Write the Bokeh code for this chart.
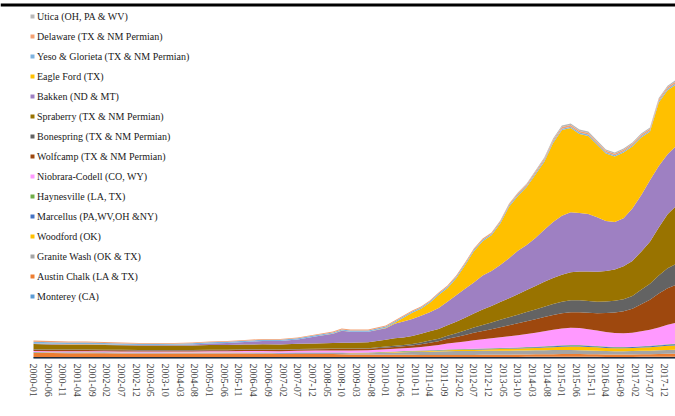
import pandas as pd
from bokeh.plotting import figure
from bokeh.models import ColumnDataSource, Legend, LegendItem, FixedTicker, Span, Range1d
from bokeh.core.properties import value
from bokeh.embed import file_html
from bokeh.resources import INLINE

# ---------------- data (thousand barrels per day) ----------------
months = ["2000-01", "2000-07", "2001-01", "2001-07", "2002-01", "2002-07", "2003-01", "2003-07",
          "2004-01", "2004-07", "2005-01", "2005-07", "2006-01", "2006-07", "2007-01", "2007-07",
          "2008-01", "2008-07", "2008-10", "2009-01", "2009-07",
          "2010-01", "2010-04", "2010-07", "2010-10", "2011-01", "2011-04", "2011-07", "2011-10",
          "2012-01", "2012-04", "2012-07", "2012-10", "2013-01", "2013-04", "2013-07", "2013-10",
          "2014-01", "2014-04", "2014-07", "2014-10", "2015-01", "2015-04", "2015-07", "2015-10",
          "2016-01", "2016-04", "2016-07", "2016-10", "2017-01", "2017-04", "2017-07", "2017-10",
          "2018-01", "2018-04"]
last_month = "2018-03"   # right edge of the visible plot

tick_labels = ["2000-01", "2000-06", "2000-11", "2001-04", "2001-09", "2002-02", "2002-07", "2002-12",
               "2003-05", "2003-10", "2004-03", "2004-08", "2005-01", "2005-06", "2005-11", "2006-04",
               "2006-09", "2007-02", "2007-07", "2007-12", "2008-05", "2008-10", "2009-03", "2009-08",
               "2010-01", "2010-06", "2010-11", "2011-04", "2011-09", "2012-02", "2012-07", "2012-12",
               "2013-05", "2013-10", "2014-03", "2014-08", "2015-01", "2015-06", "2015-11", "2016-04",
               "2016-09", "2017-02", "2017-07", "2017-12"]

monterey = [30]*21 + [30, 30, 30, 30, 30, 30, 30, 30, 30, 31, 31, 31, 32, 32, 32, 32, 33, 33, 33, 33,
                      34, 34, 34, 33, 33, 32, 32, 32, 32, 33, 33, 34, 35, 35]
austin_chalk = [80, 78, 76, 76, 74, 72, 70, 70, 70, 70, 70, 68, 68, 66, 58, 62, 60, 58, 56, 52, 50,
                46, 45, 44, 43, 42, 41, 40, 40, 40, 40, 41, 42, 43, 44, 45, 46, 48, 50, 52, 54,
                56, 56, 55, 54, 52, 50, 48, 48, 50, 52, 54, 56, 58, 60]
granite_wash = [8, 8, 8, 9, 9, 9, 9, 9, 10, 10, 11, 12, 13, 14, 15, 16, 18, 20, 22, 24, 26,
                40, 45, 50, 55, 60, 65, 70, 75, 78, 80, 80, 80, 80, 80, 80, 80, 80, 80, 80, 82,
                82, 80, 78, 75, 72, 68, 65, 65, 66, 68, 70, 74, 78, 80]
woodford = [3]*19 + [4, 5,
            8, 9, 10, 11, 12, 14, 16, 18, 20, 22, 25, 28, 30, 33, 36, 40, 44, 48, 53, 58,
            64, 70, 72, 70, 66, 62, 60, 60, 62, 66, 70, 76, 82, 85]
marcellus = [2]*21 + [5, 5, 6, 6, 7, 7, 7, 8, 8, 9, 10, 10, 11, 12, 13, 14, 15, 16, 17, 18,
                      19, 20, 20, 19, 18, 18, 17, 17, 18, 19, 20, 22, 24, 25]
haynesville = [5]*20 + [6,
               8, 8, 8, 8, 8, 9, 9, 9, 9, 10, 10, 10, 10, 10, 10, 10, 10, 10, 10, 10,
               10, 10, 10, 10, 10, 9, 9, 9, 9, 9, 10, 10, 10, 10]
niobrara = [20, 20, 20, 20, 20, 20, 19, 19, 19, 20, 22, 24, 28, 32, 30, 38, 40, 42, 44, 44, 46,
            50, 52, 55, 60, 70, 85, 100, 120, 135, 150, 170, 185, 200, 215, 230, 245, 260, 280, 300, 320,
            335, 345, 340, 325, 310, 290, 280, 275, 280, 300, 320, 350, 390, 420]
wolfcamp = [25, 25, 24, 24, 23, 22, 22, 22, 22, 22, 23, 23, 24, 25, 25, 26, 27, 28, 28, 28, 28,
            35, 38, 40, 45, 55, 65, 75, 95, 110, 130, 150, 165, 180, 200, 220, 240, 255, 270, 285, 295,
            305, 310, 315, 330, 345, 380, 410, 440, 480, 540, 600, 680, 730, 760]
bonespring = [10]*16 + [11, 12, 12, 12, 13,
              20, 23, 26, 30, 38, 45, 50, 62, 75, 90, 105, 120, 135, 150, 160, 170, 185, 195, 205, 220,
              230, 240, 240, 235, 230, 230, 235, 240, 255, 290, 320, 360, 400, 420]
spraberry = [105, 100, 98, 97, 95, 92, 90, 90, 88, 90, 92, 93, 95, 97, 100, 102, 105, 110, 115, 115, 118,
             135, 150, 150, 160, 175, 185, 195, 210, 230, 255, 280, 310, 330, 355, 380, 410, 440, 470, 500, 520,
             540, 560, 575, 590, 600, 610, 625, 660, 700, 760, 840, 960, 1080, 1160]
bakken = [10, 10, 10, 10, 10, 10, 10, 10, 12, 18, 30, 40, 52, 66, 72, 86, 139, 186, 239, 218, 210,
          230, 290, 320, 340, 360, 380, 420, 470, 530, 580, 620, 680, 700, 740, 800, 870, 900, 960, 1040, 1120,
          1180, 1200, 1170, 1150, 1090, 1000, 950, 960, 1050, 1130, 1230, 1230, 1200, 1200]
eagle_ford = [2]*21 + [8, 20, 76, 125, 136, 187, 260, 270, 342, 470, 624, 684, 712, 830, 1031, 1095,
                       1159, 1270, 1362, 1580, 1713, 1683, 1581, 1559, 1450, 1350, 1309, 1314,
                       1239, 1152, 969, 1270, 1280, 1230]
yeso = [35, 33, 30, 30, 28, 25, 22, 22, 22, 22, 23, 22, 22, 22, 22, 22, 22, 24, 24, 24, 24,
        25, 25, 25, 25, 25, 25, 26, 28, 28, 28, 28, 28, 28, 28, 28, 28, 28, 28, 28, 28,
        28, 28, 28, 28, 26, 25, 25, 25, 25, 25, 26, 26, 26, 26]
delaware = [25, 24, 22, 22, 19, 18, 16, 16, 15, 16, 17, 16, 16, 16, 16, 16, 16, 18, 18, 20, 20,
            20, 20, 20, 22, 22, 22, 22, 25, 25, 25, 25, 25, 26, 26, 27, 28, 28, 30, 30, 32,
            32, 32, 32, 32, 30, 30, 30, 30, 30, 32, 34, 36, 38, 40]
utica = [0]*21 + [0, 0, 0, 0, 0, 0, 0, 0, 0, 0, 1, 2, 3, 5, 8, 12, 15, 20, 25, 30,
                  32, 32, 30, 30, 28, 26, 25, 25, 24, 24, 24, 24, 25, 26]

# bottom-to-top stacking order
names = ["Monterey (CA)", "Austin Chalk (LA & TX)", "Granite Wash (OK & TX)", "Woodford (OK)",
         "Marcellus (PA,WV,OH &NY)", "Haynesville (LA, TX)", "Niobrara-Codell (CO, WY)",
         "Wolfcamp (TX & NM Permian)", "Bonespring (TX & NM Permian)", "Spraberry (TX & NM Permian)",
         "Bakken (ND & MT)", "Eagle Ford (TX)", "Yeso & Glorieta (TX & NM Permian)",
         "Delaware (TX & NM Permian)", "Utica (OH, PA & WV)"]
values = [monterey, austin_chalk, granite_wash, woodford, marcellus, haynesville, niobrara,
          wolfcamp, bonespring, spraberry, bakken, eagle_ford, yeso, delaware, utica]
colors = ["#5B9BD5", "#ED7D31", "#A5A5A5", "#FFC000", "#4472C4", "#70AD47", "#FF99FF",
          "#9E480E", "#636363", "#997300", "#9E80C2", "#FFC000", "#7DB3E0", "#F4A070", "#B8B8B8"]

# ---------------- build ----------------
def month_index(s):
    y, m = s.split("-")
    return (int(y) - 2000) * 12 + int(m) - 1

data = {"x": [month_index(s) for s in months]}
keys = []
for i, v in enumerate(values):
    k = "s%d" % i
    keys.append(k)
    data[k] = v
src = ColumnDataSource(data)

PX_PER_MONTH = 2.935
LEFT_PAD = 33  # pixels between the window edge and the first month
x_start = month_index(months[0]) - LEFT_PAD / PX_PER_MONTH
x_end = month_index(last_month) + 0.7

p = figure(width=675, height=415, output_backend="svg", toolbar_location=None,
           x_range=Range1d(x_start, x_end), y_range=Range1d(0, 7160),
           y_axis_location=None, min_border_left=0, min_border_right=0,
           min_border_top=0, min_border_bottom=57)
p.outline_line_color = None
p.xgrid.visible = False
p.ygrid.visible = False
p.background_fill_color = "white"
p.border_fill_color = "white"

p.varea_stack(stackers=keys, x="x", color=colors, source=src)

# baseline (category axis line) from the first month to the right edge
p.segment(x0=[month_index(months[0])], y0=[0], x1=[x_end], y1=[0],
          line_color="#1F2A3A", line_width=3)

ticks = [month_index(t) for t in tick_labels]
p.xaxis.ticker = FixedTicker(ticks=ticks)
p.xaxis.major_label_overrides = {t: lab for t, lab in zip(ticks, tick_labels)}
p.xaxis.major_label_orientation = "vertical"
p.xaxis.major_label_text_font = "Liberation Serif"
p.xaxis.major_label_text_font_size = "10px"
p.xaxis.major_label_text_color = "#404040"
p.xaxis.major_tick_line_color = None
p.xaxis.minor_tick_line_color = None
p.xaxis.major_tick_out = 0
p.xaxis.major_tick_in = 0
p.xaxis.major_label_standoff = 5
p.xaxis.axis_line_color = None

p.add_layout(Span(location=7070, dimension="width", line_color="black", line_width=3))

items = []
for name, c in zip(names[::-1], colors[::-1]):
    r = p.scatter(x=[-1000], y=[-1000], marker="square", fill_color=c, line_color=None, size=4)
    items.append(LegendItem(label=value(name), renderers=[r]))
legend = Legend(items=items, location=(27, 52), padding=0, margin=0, spacing=0,
                glyph_width=10, glyph_height=20, label_height=20, label_standoff=0,
                label_text_font="Liberation Serif", label_text_font_size="10px",
                label_text_color="#1a1a1a", border_line_color=None,
                background_fill_alpha=0)
p.add_layout(legend, "center")

open("out.html", "w").write(file_html(p, INLINE))
